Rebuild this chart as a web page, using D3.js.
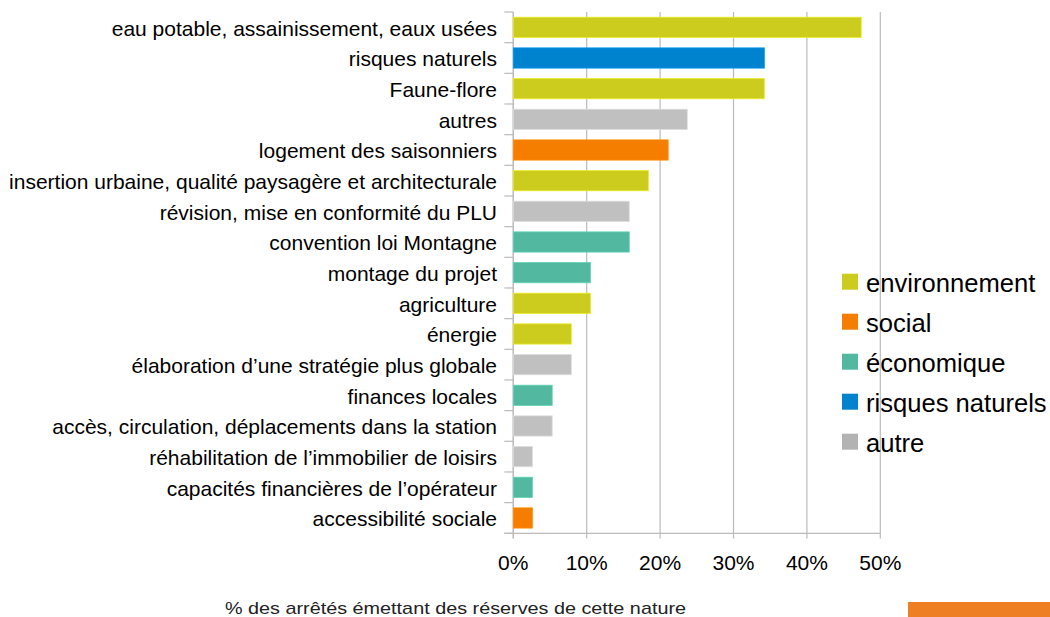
<!DOCTYPE html>
<html><head><meta charset="utf-8">
<script src="https://cdn.jsdelivr.net/npm/d3@7"></script>
<style>
html,body{margin:0;padding:0;background:#fff;}
svg{display:block;font-family:"Liberation Sans",Arial,sans-serif;}
</style></head>
<body>
<svg id="chart" width="1050" height="617"></svg>
<script>
const categories = [
  "eau potable, assainissement, eaux usées",
  "risques naturels",
  "Faune-flore",
  "autres",
  "logement des saisonniers",
  "insertion urbaine, qualité paysagère et architecturale",
  "révision, mise en conformité du PLU",
  "convention loi Montagne",
  "montage du projet",
  "agriculture",
  "énergie",
  "élaboration d’une stratégie plus globale",
  "finances locales",
  "accès, circulation, déplacements dans la station",
  "réhabilitation de l’immobilier de loisirs",
  "capacités financières de l’opérateur",
  "accessibilité sociale"
];
const values = [47.4, 34.2, 34.2, 23.7, 21.1, 18.4, 15.8, 15.8, 10.5, 10.5, 7.9, 7.9, 5.3, 5.3, 2.6, 2.6, 2.6];
const groups = ["environnement","risques naturels","environnement","autre","social","environnement","autre","économique","économique","environnement","environnement","autre","économique","autre","autre","économique","social"];
const legendItems = ["environnement","social","économique","risques naturels","autre"];
const groupColors = ["#CCCC1E","#F57D00","#52B8A0","#0083CF","#C0C0C0"];
const legendColors = ["#CCCC1E","#F57D00","#52B8A0","#0083CF","#B3B3B3"];
const tickValues = [0,10,20,30,40,50];
const tickLabels = ["0%","10%","20%","30%","40%","50%"];
const caption = "% des arrêtés émettant des réserves de cette nature";

const svg = d3.select("#chart");
const x = d3.scaleLinear().domain([0,50]).range([513.3, 880.3]);
const y = d3.scaleBand().domain(categories).range([12, 533.3]).paddingInner(0.34).paddingOuter(0.17);
const color = d3.scaleOrdinal().domain(legendItems).range(groupColors);
const lcolor = d3.scaleOrdinal().domain(legendItems).range(legendColors);
const grid = "#BBBBBB";

// vertical gridlines
svg.append("g").selectAll("line").data(tickValues).join("line")
  .attr("x1", d => x(d)).attr("x2", d => x(d))
  .attr("y1", 12).attr("y2", 538.5)
  .attr("stroke", grid).attr("stroke-width", 1.2);

// left axis line + ticks
svg.append("line").attr("x1", x(0)).attr("x2", x(0)).attr("y1", 12).attr("y2", 538.5)
  .attr("stroke", grid).attr("stroke-width", 1.2);
const bounds = d3.range(categories.length + 1).map(i => 12 + i * y.step());
svg.append("g").selectAll("line").data(bounds).join("line")
  .attr("x1", x(0) - 9).attr("x2", x(0))
  .attr("y1", d => d).attr("y2", d => d)
  .attr("stroke", grid).attr("stroke-width", 1.2);
// bottom axis line
svg.append("line").attr("x1", x(0) - 9).attr("x2", x(50)).attr("y1", 533.3).attr("y2", 533.3)
  .attr("stroke", grid).attr("stroke-width", 1.2);

// bars
svg.append("g").selectAll("rect").data(categories).join("rect")
  .attr("x", x(0)).attr("y", d => y(d))
  .attr("width", (d,i) => x(values[i]) - x(0))
  .attr("height", y.bandwidth())
  .attr("fill", (d,i) => color(groups[i]))
  .attr("stroke", (d,i) => d3.color(color(groups[i])).brighter(0.4))
  .attr("stroke-width", 0.8);

// category labels
svg.append("g").selectAll("text").data(categories).join("text")
  .attr("x", 497).attr("y", d => y(d) + y.bandwidth()/2 + 1)
  .attr("text-anchor", "end").attr("dominant-baseline", "central")
  .attr("font-size", 21).attr("fill", "#000")
  .text(d => d);

// x tick labels
svg.append("g").selectAll("text").data(tickValues).join("text")
  .attr("x", d => x(d)).attr("y", 562)
  .attr("text-anchor", "middle").attr("dominant-baseline", "central")
  .attr("font-size", 21).attr("fill", "#000")
  .text((d,i) => tickLabels[i]);

// legend
const lg = svg.append("g").selectAll("g").data(legendItems).join("g")
  .attr("transform", (d,i) => `translate(842,${281.7 + i*40})`);
lg.append("rect").attr("x", 0).attr("y", -8).attr("width", 16).attr("height", 16)
  .attr("fill", d => lcolor(d));
lg.append("text").attr("x", 24).attr("y", 1).attr("dominant-baseline", "central")
  .attr("font-size", 25.6).attr("fill", "#000").text(d => d);

// caption
svg.append("text").attr("x", 225).attr("y", 608).attr("dominant-baseline", "central")
  .attr("font-size", 17).attr("fill", "#222")
  .attr("textLength", 461).attr("lengthAdjust", "spacingAndGlyphs")
  .text(caption);

// orange decorative bar
svg.append("rect").attr("x", 908).attr("y", 602).attr("width", 142).attr("height", 15).attr("fill", "#EE7F22");
</script>
</body></html>
